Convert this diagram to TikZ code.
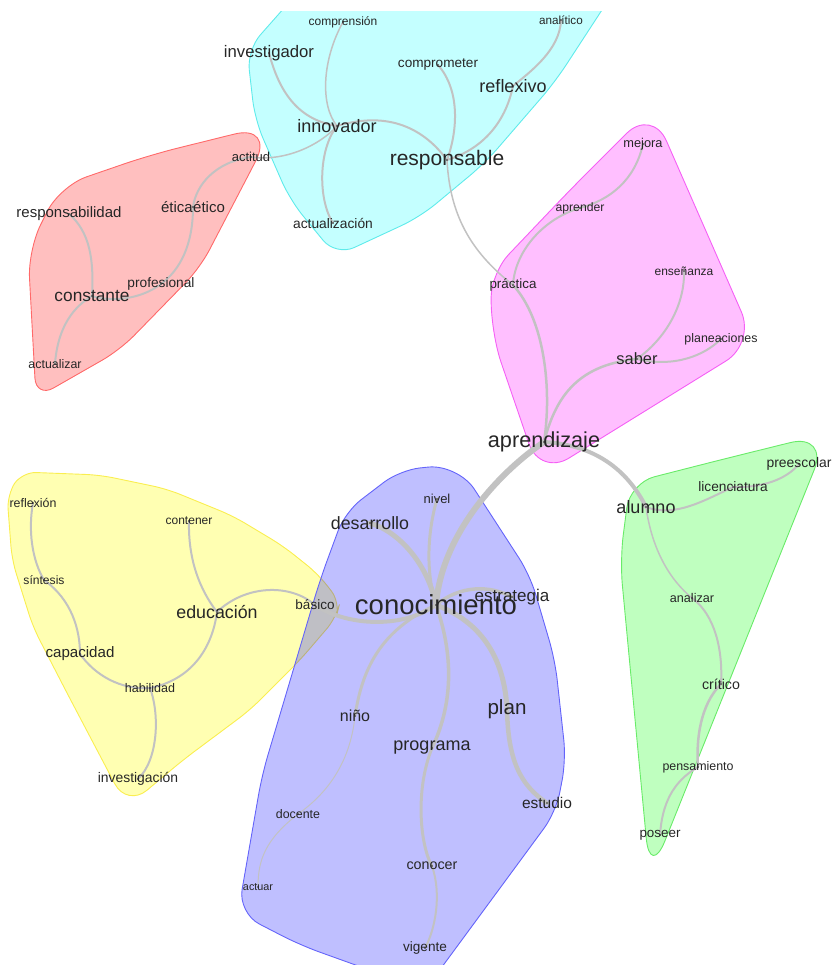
\documentclass[tikz,border=0pt]{standalone}
\usepackage{fontspec}
\setmainfont{Liberation Sans}
\definecolor{hcyan}{RGB}{0,255,255}
\definecolor{hcyanline}{RGB}{95,235,235}
\definecolor{hred}{RGB}{255,0,0}
\definecolor{hredline}{RGB}{255,105,105}
\definecolor{hmag}{RGB}{255,0,255}
\definecolor{hmagline}{RGB}{245,95,245}
\definecolor{hgreen}{RGB}{0,255,0}
\definecolor{hgreenline}{RGB}{105,235,105}
\definecolor{hyel}{RGB}{255,255,0}
\definecolor{hyelline}{RGB}{250,238,80}
\definecolor{hblue}{RGB}{0,0,255}
\definecolor{hblueline}{RGB}{100,100,250}
\pgfdeclarelayer{hulls}
\pgfdeclarelayer{links}
\pgfsetlayers{hulls,links,main}
\begin{document}
\begin{tikzpicture}[x=1pt,y=-1pt,
  w/.style={font=\fontsize{#1}{#1}\selectfont, inner sep=0pt, text=black!85},
  e/.style={draw=black!24, line width=#1pt, line cap=round},
  hull/.style={rounded corners=20pt, line width=0.9pt, fill opacity=#1},
  rc/.style={rounded corners=#1pt},
  dot/.style={fill=black!85},
]
\useasboundingbox (0,0) rectangle (832,965);

% ---------- words ----------
% cyan group
\node[w=12]   (compr)    at (343,22)  {comprensión};
\node[w=11.7] (analit)   at (561,20)  {analítico};
\node[w=16.7] (invest)   at (269,53)  {investigador};
\node[w=13.6] (comprom)  at (438,65)  {comprometer};
\node[w=18]   (reflex)   at (513,86)  {reflexivo};
\node[w=18]   (innov)    at (337,126) {innovador};
\node[w=21]   (respons)  at (447,160) {responsable};
\node[w=13.8] (actualiz) at (333,223) {actualización};
\node[w=13]   (actitud)  at (251,157) {actitud};
% red group
\node[w=15]   (respab)   at (69,214)  {responsabilidad};
\node[w=15, anchor=east] (etica) at (193,207) {ética};
\node[w=15, anchor=west] (etico) at (193,207) {ético};
\node[w=13.7] (prof)     at (161,284) {profesional};
\node[w=17.3] (const)    at (92,296)  {constante};
\node[w=12.4] (actzar)   at (55,364)  {actualizar};
% magenta group
\node[w=12.8] (mejora)   at (643,144) {mejora};
\node[w=12.2] (aprender) at (580,208) {aprender};
\node[w=12]   (ensen)    at (684,271) {enseñanza};
\node[w=13.4] (practica) at (513,285) {práctica};
\node[w=12.4] (planea)   at (721,339) {planeaciones};
\node[w=16.4] (saber)    at (637,359) {saber};
\node[w=21.7] (aprendiz) at (544,442) {aprendizaje};
% green group
\node[w=13.9] (preesc)   at (799,464) {preescolar};
\node[w=13.7] (licen)    at (733,487) {licenciatura};
\node[w=18]   (alumno)   at (646,507) {alumno};
\node[w=12.6] (analizar) at (692,598) {analizar};
\node[w=14.2] (critico)  at (721,684) {crítico};
\node[w=12.4] (pensam)   at (698,767) {pensamiento};
\node[w=13.4] (poseer)   at (660,835) {poseer};
% yellow group
\node[w=12.4] (reflexion) at (33,503)  {reflexión};
\node[w=12]   (contener)  at (189,521) {contener};
\node[w=12.1] (sintesis)  at (44,580)  {síntesis};
\node[w=17.8] (educ)      at (217,612) {educación};
\node[w=13.5] (basico)    at (315,605) {básico};
\node[w=15.1] (capac)     at (80,654)  {capacidad};
\node[w=12.5] (habil)     at (150,688) {habilidad};
\node[w=13.9] (investig)  at (138,779) {investigación};
% blue group
\node[w=13]   (nivel)    at (437,499) {nivel};
\node[w=17.8] (desarr)   at (370,523) {desarrollo};
\node[w=27.5] (conoc)    at (436,605) {conocimiento};
\node[w=17]   (estrat)   at (512,597) {estrategia};
\node[w=16]   (nino)     at (355,716) {niño};
\node[w=20.6] (plan)     at (507,709) {plan};
\node[w=18]   (programa) at (432,748) {programa};
\node[w=12.4] (docente)  at (298,814) {docente};
\node[w=15.5] (estudio)  at (547,803) {estudio};
\node[w=14.3] (conocer)  at (432,866) {conocer};
\node[w=10.8] (actuar)   at (258,887) {actuar};
\node[w=13.6] (vigente)  at (425,948) {vigente};

% ---------- links ----------
\begin{pgfonlayer}{links}
% cyan
\draw[e=2]   (invest.center) .. controls (280,95) and (300,120) .. (innov.center);
\draw[e=1.5] (compr.center) .. controls (322,60) and (320,105) .. (innov.center);
\draw[e=2]   (innov.center) .. controls (318,150) and (318,200) .. (actualiz.center);
\draw[e=2]   (innov.center) .. controls (390,110) and (425,130) .. (respons.center);
\draw[e=2]   (comprom.center) .. controls (460,90) and (458,130) .. (respons.center);
\draw[e=2]   (reflex.center) .. controls (505,125) and (480,150) .. (respons.center);
\draw[e=2]   (analit.center) .. controls (560,50) and (530,72) .. (reflex.center);
\draw[e=1.5] (actitud.center) .. controls (285,162) and (320,145) .. (innov.center);
\draw[e=1.5] (respons.center) .. controls (450,220) and (475,255) .. (practica.center);
% red
\draw[e=2] (actitud.center) .. controls (215,162) and (196,185) .. (etica.east);
\draw[e=2] (etico.west) .. controls (193,245) and (180,270) .. (prof.center);
\draw[e=2] (prof.center) .. controls (140,300) and (110,302) .. (const.center);
\draw[e=2] (respab.center) .. controls (90,232) and (94,260) .. (const.center);
\draw[e=2] (const.center) .. controls (68,310) and (57,335) .. (actzar.center);
% magenta
\draw[e=2]   (mejora.center) .. controls (635,180) and (610,200) .. (aprender.center);
\draw[e=2]   (aprender.center) .. controls (545,218) and (515,250) .. (practica.center);
\draw[e=2.5] (practica.center) .. controls (545,320) and (552,390) .. (aprendiz.center);
\draw[e=2.5] (saber.center) .. controls (575,365) and (555,400) .. (aprendiz.center);
\draw[e=2]   (saber.center) .. controls (670,335) and (685,300) .. (ensen.center);
\draw[e=2]   (saber.center) .. controls (675,368) and (705,355) .. (planea.center);
% main hubs
\draw[e=6] (aprendiz.center) .. controls (505,468) and (442,530) .. (conoc.center);
\draw[e=4] (aprendiz.center) .. controls (600,445) and (630,475) .. (alumno.center);
% green
\draw[e=2]   (alumno.center) .. controls (675,518) and (705,500) .. (licen.center);
\draw[e=2]   (licen.center) .. controls (770,488) and (790,475) .. (preesc.center);
\draw[e=1.5] (alumno.center) .. controls (652,550) and (670,580) .. (analizar.center);
\draw[e=2]   (analizar.center) .. controls (715,615) and (723,650) .. (critico.center);
\draw[e=2.5] (critico.center) .. controls (700,705) and (696,740) .. (pensam.center);
\draw[e=2]   (pensam.center) .. controls (672,782) and (662,805) .. (poseer.center);
% yellow
\draw[e=2] (reflexion.center) .. controls (28,530) and (32,560) .. (sintesis.center);
\draw[e=2] (sintesis.center) .. controls (72,600) and (80,630) .. (capac.center);
\draw[e=2] (capac.center) .. controls (95,675) and (120,690) .. (habil.center);
\draw[e=2] (habil.center) .. controls (190,680) and (212,650) .. (educ.center);
\draw[e=2] (habil.center) .. controls (160,715) and (158,760) .. (investig.center);
\draw[e=2] (contener.center) .. controls (188,560) and (200,590) .. (educ.center);
\draw[e=2] (educ.center) .. controls (245,585) and (290,583) .. (basico.center);
\draw[e=4] (basico.center) .. controls (345,625) and (400,630) .. (conoc.center);
% blue
\draw[e=5]   (desarr.center) .. controls (400,532) and (428,565) .. (conoc.center);
\draw[e=3]   (nivel.center) .. controls (428,530) and (425,570) .. (conoc.center);
\draw[e=3.5] (conoc.center) .. controls (460,585) and (490,585) .. (estrat.center);
\draw[e=3]   (conoc.center) .. controls (380,630) and (362,670) .. (nino.center);
\draw[e=3.5] (conoc.center) .. controls (452,650) and (455,700) .. (programa.center);
\draw[e=5]   (conoc.center) .. controls (490,625) and (505,670) .. (plan.center);
\draw[e=4.5] (plan.center) .. controls (508,760) and (520,785) .. (estudio.center);
\draw[e=1]   (nino.center) .. controls (350,765) and (325,795) .. (docente.center);
\draw[e=1]   (docente.center) .. controls (265,840) and (258,860) .. (actuar.center);
\draw[e=3]   (programa.center) .. controls (415,790) and (420,845) .. (conocer.center);
\draw[e=2]   (conocer.center) .. controls (442,895) and (435,930) .. (vigente.center);
% vertex marks
\foreach \v in {compr,analit,invest,comprom,reflex,innov,respons,actualiz,actitud,
  respab,prof,const,actzar,mejora,aprender,ensen,practica,planea,saber,aprendiz,
  preesc,licen,alumno,analizar,critico,pensam,poseer,reflexion,contener,sintesis,
  educ,basico,capac,habil,investig,nivel,desarr,conoc,estrat,nino,plan,programa,
  docente,estudio,conocer,actuar,vigente}
  \fill[dot] (\v.center) circle (0.9);
\fill[dot] (etica.east) circle (0.9);
\end{pgfonlayer}

% ---------- group hulls ----------
% the radius given before a "--" rounds the corner where that segment starts
\begin{pgfonlayer}{hulls}
\begin{scope}
\clip (0,12) rectangle (832,965);
% cyan
\filldraw[hull=.23, fill=hcyan, draw=hcyanline]
  (430,-5) -- (615,-10) -- (555,82) -- (485,163) -- (420,217)
  -- (336,256) [rc=20] -- (290,200) -- (255,120) -- (247,50) -- (300,-10) -- cycle;
% red
\filldraw[hull=.25, fill=hred, draw=hredline]
  (150,155) [rc=42] -- (275,124) [rc=20] -- (200,268) -- (120,350)
  -- (36,398) [rc=28] -- (28,250) -- (60,186) -- cycle;
% magenta
\filldraw[hull=.25, fill=hmag, draw=hmagline]
  (570,190) [rc=36] -- (652,108) [rc=34] -- (755,343) -- (540,476)
  -- (490,330) [rc=24] -- (492,272) -- cycle;
% green
\filldraw[hull=.25, fill=hgreen, draw=hgreenline]
  (720,460) [rc=40] -- (829,433) -- (650,878) [rc=25] -- (620,560)
  -- (630,483) -- cycle;
% yellow
\filldraw[hull=.3, fill=hyel, draw=hyelline, rounded corners=14pt]
  (100,475) -- (167,489) -- (233,516) -- (283,546) -- (318,574) -- (340,602)
  -- (336,618) -- (300,660) -- (250,710) -- (183,760) [rc=26] -- (127,807)
  [rc=14] -- (67,693) -- (33,627) -- (12,560) -- (7,495) -- (22,472) -- cycle;
% blue
\filldraw[hull=.25, fill=hblue, draw=hblueline]
  (400,470) [rc=30] -- (458,464) [rc=20] -- (530,575) -- (555,660) -- (566,760)
  -- (556,812) -- (425,990) -- (300,945) [rc=24] -- (238,913) [rc=20] -- (262,775)
  -- (320,580) -- (345,512) -- cycle;
\end{scope}
\end{pgfonlayer}
\end{tikzpicture}
\end{document}
